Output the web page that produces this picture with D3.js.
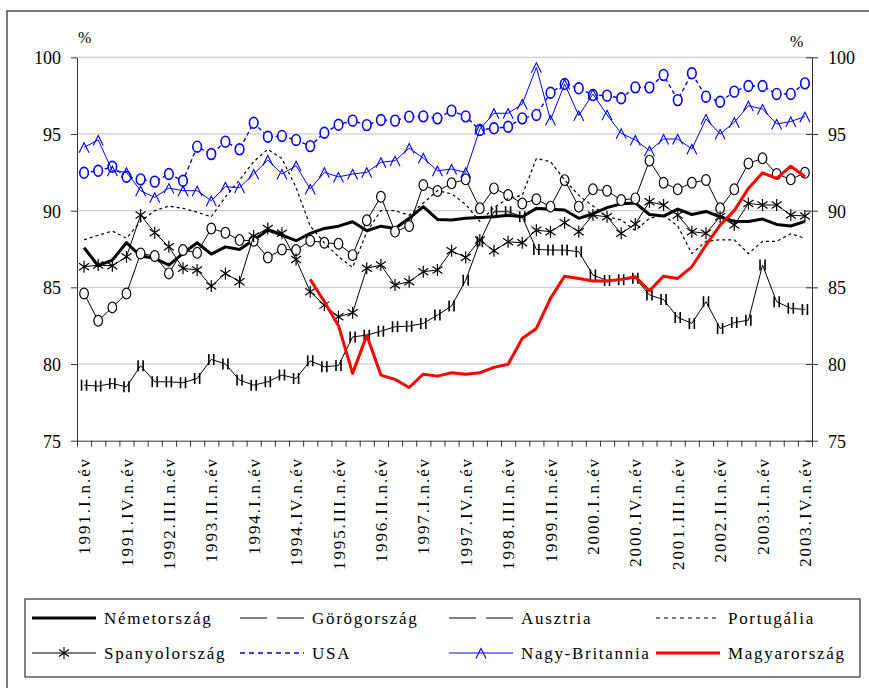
<!DOCTYPE html>
<html><head><meta charset="utf-8">
<script src="https://cdn.jsdelivr.net/npm/d3@7"></script>
<style>
body{margin:0;background:#fff}
svg{display:block}
svg text{font-family:'Liberation Serif','Times New Roman',Times,Tinos,'DejaVu Serif','Noto Serif',serif !important;fill:#000}
</style>
</head><body>
<svg id="c" width="869" height="688"></svg>
<script>
const categories = [
"1991.I.n.év","1991.II.n.év","1991.III.n.év","1991.IV.n.év",
"1992.I.n.év","1992.II.n.év","1992.III.n.év","1992.IV.n.év",
"1993.I.n.év","1993.II.n.év","1993.III.n.év","1993.IV.n.év",
"1994.I.n.év","1994.II.n.év","1994.III.n.év","1994.IV.n.év",
"1995.I.n.év","1995.II.n.év","1995.III.n.év","1995.IV.n.év",
"1996.I.n.év","1996.II.n.év","1996.III.n.év","1996.IV.n.év",
"1997.I.n.év","1997.II.n.év","1997.III.n.év","1997.IV.n.év",
"1998.I.n.év","1998.II.n.év","1998.III.n.év","1998.IV.n.év",
"1999.I.n.év","1999.II.n.év","1999.III.n.év","1999.IV.n.év",
"2000.I.n.év","2000.II.n.év","2000.III.n.év","2000.IV.n.év",
"2001.I.n.év","2001.II.n.év","2001.III.n.év","2001.IV.n.év",
"2002.I.n.év","2002.II.n.év","2002.III.n.év","2002.IV.n.év",
"2003.I.n.év","2003.II.n.év","2003.III.n.év","2003.IV.n.év"];

const tickLabels = ["1991.I.n.év","1991.IV.n.év","1992.III.n.év","1993.II.n.év","1994.I.n.év","1994.IV.n.év",
"1995.III.n.év","1996.II.n.év","1997.I.n.év","1997.IV.n.év","1998.III.n.év","1999.II.n.év",
"2000.I.n.év","2000.IV.n.év","2001.III.n.év","2002.II.n.év","2003.I.n.év","2003.IV.n.év"];

const yTicks = [75, 80, 85, 90, 95, 100];

const nemetorszag = [87.58,86.41,86.78,87.91,87.04,86.89,86.45,87.21,87.91,87.17,87.64,87.47,88.08,88.73,88.41,88.04,88.52,88.84,88.99,89.28,88.69,88.99,88.84,89.5,90.26,89.43,89.39,89.5,89.56,89.6,89.7,89.6,90.15,90.09,90.04,89.5,89.8,90.2,90.45,90.5,89.75,89.65,90.1,89.75,89.95,89.6,89.3,89.3,89.45,89.1,89.0,89.3];
const gorogorszag = [78.62,78.56,78.73,78.51,79.89,78.84,78.84,78.78,79.06,80.3,80.0,78.95,78.62,78.84,79.28,79.06,80.21,79.82,79.9,81.77,81.88,82.14,82.43,82.47,82.65,83.19,83.78,85.47,87.97,89.93,89.93,89.6,87.47,87.43,87.43,87.32,85.8,85.45,85.5,85.6,84.5,84.2,83.04,82.65,84.06,82.32,82.7,82.86,86.45,84.06,83.63,83.56];
const ausztria = [84.6,82.82,83.69,84.6,87.21,87.04,85.91,87.43,87.25,88.84,88.56,88.08,88.04,86.95,87.47,87.43,88.04,87.91,87.84,87.1,89.37,90.91,88.63,89.0,91.67,91.28,91.78,92.04,90.15,91.45,91.02,90.47,90.74,90.26,91.99,90.26,91.39,91.3,90.69,90.8,93.26,91.82,91.39,91.82,92.0,90.15,91.39,93.08,93.41,92.39,92.04,92.47];
const portugalia = [88.1,88.4,88.67,88.2,89.3,90.0,90.3,90.15,89.9,89.6,90.9,92.0,93.2,94.0,93.4,91.5,89.0,87.9,87.0,86.3,88.6,90.0,90.0,89.7,90.5,91.3,91.1,90.4,89.3,90.2,90.8,91.0,93.4,93.2,92.0,91.0,90.3,89.6,89.4,88.7,89.5,89.7,89.0,87.2,88.0,88.1,88.1,87.2,88.0,88.0,88.5,88.2];
const spanyolorszag = [86.34,86.45,86.41,86.99,89.71,88.56,87.64,86.24,86.13,85.08,85.91,85.37,88.34,88.84,88.52,86.82,84.71,83.84,83.08,83.34,86.24,86.45,85.15,85.37,86.02,86.13,87.38,86.95,88.08,87.38,87.97,87.91,88.73,88.63,89.21,88.63,89.71,89.6,88.52,89.13,90.58,90.37,89.71,88.63,88.52,89.6,89.06,90.47,90.37,90.37,89.71,89.65];
const usa = [92.47,92.6,92.86,92.21,92.04,91.89,92.39,91.95,94.17,93.69,94.5,94.0,95.73,94.82,94.87,94.61,94.21,95.08,95.6,95.87,95.58,95.91,95.87,96.13,96.15,96.02,96.52,96.15,95.26,95.37,95.47,96.02,96.24,97.69,98.26,97.98,97.54,97.5,97.33,98.04,98.04,98.85,97.21,98.96,97.43,97.1,97.76,98.13,98.13,97.61,97.61,98.3];
const nagyBritannia = [94.13,94.61,92.6,92.5,91.3,90.87,91.47,91.3,91.3,90.65,91.56,91.5,92.39,93.3,92.39,92.93,91.41,92.5,92.2,92.39,92.5,93.15,93.26,94.08,93.43,92.6,92.71,92.5,95.32,96.35,96.35,96.95,99.35,95.91,98.26,96.2,97.6,96.25,95.04,94.61,93.91,94.67,94.67,94.02,95.98,95.0,95.76,96.84,96.63,95.65,95.82,96.13];
const magyarorszag = [null,null,null,null,null,null,null,null,null,null,null,null,null,null,null,null,85.52,84.06,82.5,79.39,81.88,79.28,79.0,78.47,79.34,79.21,79.43,79.34,79.43,79.78,79.99,81.67,82.32,84.28,85.73,85.58,85.41,85.41,85.52,85.69,84.78,85.73,85.58,86.34,87.76,89.06,90.0,91.45,92.47,92.1,92.9,92.21];

const seriesNames = ["Németország","Görögország","Ausztria","Portugália","Spanyolország","USA","Nagy-Britannia","Magyarország"];

const FONT = "'Liberation Serif','Times New Roman',Times,Tinos,'DejaVu Serif','Noto Serif',serif";
const svg = d3.select("#c");
const L = 77, R = 812, T = 57.3, B = 440.7;
const xb = d3.scaleBand().domain(categories).range([L, R]).padding(0);
const xc = c => xb(c) + xb.bandwidth() / 2;
const xi = d3.scaleLinear().domain([0, categories.length]).range([L, R]);
const y = d3.scaleLinear().domain([75, 100]).range([B, T]);

// outer frame
svg.append("rect").attr("x", 7).attr("y", 11).attr("width", 900).attr("height", 700)
  .attr("fill", "none").attr("stroke", "#333").attr("stroke-width", 1.3);

// grid
svg.append("g").selectAll("line").data(yTicks.filter(v => v > 75)).join("line")
  .attr("x1", L).attr("x2", R).attr("y1", d => y(d)).attr("y2", d => y(d))
  .attr("stroke", "#c4c4c4").attr("stroke-width", 1);

// left axis
const gl = svg.append("g").attr("transform", `translate(${L},0)`)
  .call(d3.axisLeft(y).tickValues(yTicks).tickSize(6).tickSizeOuter(0).tickPadding(10));
gl.attr("font-family", FONT);
gl.select(".domain").attr("stroke", "#333");
gl.selectAll(".tick line").attr("stroke", "#333");
gl.selectAll(".tick text").attr("font-size", 18).style("font-family", FONT).attr("fill", "#000").attr("dy", "0.36em");

// right axis
const gr = svg.append("g").attr("transform", `translate(${R},0)`)
  .call(d3.axisRight(y).tickValues(yTicks).tickSize(6).tickSizeOuter(0).tickPadding(10));
gr.attr("font-family", FONT);
gr.select(".domain").attr("stroke", "#333");
gr.selectAll(".tick line").attr("stroke", "#333").attr("x1", -6);
gr.selectAll(".tick text").attr("font-size", 18).style("font-family", FONT).attr("fill", "#000").attr("dy", "0.36em");

// bottom axis (ticks at category boundaries)
const gb = svg.append("g").attr("transform", `translate(0,${B})`)
  .call(d3.axisBottom(xi).tickValues(d3.range(0, categories.length + 1)).tickSize(6).tickSizeOuter(0).tickFormat(""));
gb.select(".domain").attr("stroke", "#333");
gb.selectAll(".tick line").attr("stroke", "#333");

// x labels
svg.append("g").selectAll("text").data(tickLabels).join("text")
  .attr("transform", d => `translate(${xc(d)},457) rotate(-90)`)
  .attr("text-anchor", "end").attr("dy", "0.36em")
  .attr("font-size", 17).style("font-family", FONT).style("letter-spacing", "1.9px")
  .text(d => d);

// % labels
svg.append("text").attr("x", 78).attr("y", 43).attr("font-size", 16).style("font-family", FONT).text("%");
svg.append("text").attr("x", 790).attr("y", 47).attr("font-size", 16).style("font-family", FONT).text("%");

const line = d3.line().defined(d => d.v != null).x(d => xc(d.c)).y(d => y(d.v));
const pts = arr => arr.map((v, i) => ({c: categories[i], v}));
const plot = svg.append("g");

function drawLine(arr, color, w, dash) {
  plot.append("path").datum(pts(arr)).attr("d", line).attr("fill", "none")
    .attr("stroke", color).attr("stroke-width", w).attr("stroke-linejoin", "round")
    .attr("stroke-dasharray", dash || null);
}

const markerPaths = {
  H: "M-2.5,-5.5V5.5M2.5,-5.5V5.5",
  star: "M0,-6V6M-5,-3.5L5,3.5M-5,3.5L5,-3.5",
  tri: "M-5,5.5L0,-4.5L5,5.5"
};

function drawMarkers(arr, type, color, sw) {
  const g = plot.append("g");
  const data = pts(arr).filter(d => d.v != null);
  if (type === "circle") {
    g.selectAll("ellipse").data(data).join("ellipse")
      .attr("cx", d => xc(d.c)).attr("cy", d => y(d.v)).attr("rx", 4.3).attr("ry", 5.4)
      .attr("fill", "#fff").attr("stroke", color).attr("stroke-width", sw);
  } else {
    g.selectAll("path").data(data).join("path")
      .attr("transform", d => `translate(${xc(d.c)},${y(d.v)})`)
      .attr("d", markerPaths[type]).attr("fill", "none")
      .attr("stroke", color).attr("stroke-width", sw);
  }
}

drawLine(nemetorszag, "#000", 3);
drawLine(gorogorszag, "#000", 1);
drawMarkers(gorogorszag, "H", "#000", 1.6);
drawLine(ausztria, "#000", 1);
drawMarkers(ausztria, "circle", "#000", 1.2);
drawLine(portugalia, "#000", 1.2, "3,3");
drawLine(spanyolorszag, "#000", 1);
drawMarkers(spanyolorszag, "star", "#000", 1.2);
drawLine(usa, "#0000ff", 1.4, "4,3");
drawMarkers(usa, "circle", "#0000ff", 1.6);
drawLine(nagyBritannia, "#0000ff", 1);
drawMarkers(nagyBritannia, "tri", "#0000ff", 1.1);
drawLine(magyarorszag, "#ff0000", 3);

// legend
const lg = svg.append("g");
lg.append("rect").attr("x", 25).attr("y", 599).attr("width", 835).attr("height", 78)
  .attr("fill", "#fff").attr("stroke", "#333").attr("stroke-width", 1.2);

const legendItems = [
  {name: seriesNames[0], col: 0, row: 0, color: "#000", w: 3},
  {name: seriesNames[1], col: 1, row: 0, color: "#000", w: 1, split: true},
  {name: seriesNames[2], col: 2, row: 0, color: "#000", w: 1, split: true},
  {name: seriesNames[3], col: 3, row: 0, color: "#000", w: 1.2, dash: "4,4"},
  {name: seriesNames[4], col: 0, row: 1, color: "#000", w: 1, marker: "star"},
  {name: seriesNames[5], col: 1, row: 1, color: "#0000ff", w: 1.4, dash: "5,4"},
  {name: seriesNames[6], col: 2, row: 1, color: "#0000ff", w: 1, marker: "tri"},
  {name: seriesNames[7], col: 3, row: 1, color: "#ff0000", w: 3}
];
const colX = [32, 240, 449, 656];
const rowY = [618, 653];
legendItems.forEach(it => {
  const x0 = colX[it.col], x1 = x0 + 64, yy = rowY[it.row];
  if (it.split) {
    lg.append("line").attr("x1", x0).attr("x2", x0 + 27).attr("y1", yy).attr("y2", yy)
      .attr("stroke", it.color).attr("stroke-width", it.w);
    lg.append("line").attr("x1", x0 + 37).attr("x2", x1).attr("y1", yy).attr("y2", yy)
      .attr("stroke", it.color).attr("stroke-width", it.w);
  } else {
    lg.append("line").attr("x1", x0).attr("x2", x1).attr("y1", yy).attr("y2", yy)
      .attr("stroke", it.color).attr("stroke-width", it.w).attr("stroke-dasharray", it.dash || null);
  }
  if (it.marker) {
    lg.append("path").attr("transform", `translate(${(x0 + x1) / 2},${yy})`)
      .attr("d", markerPaths[it.marker]).attr("fill", "none")
      .attr("stroke", it.color).attr("stroke-width", 1.1);
  }
  lg.append("text").attr("x", x1 + 8).attr("y", yy + 5.5).attr("font-size", 17)
    .style("font-family", FONT).style("letter-spacing", "1.7px").text(it.name);
});
</script>
</body></html>
